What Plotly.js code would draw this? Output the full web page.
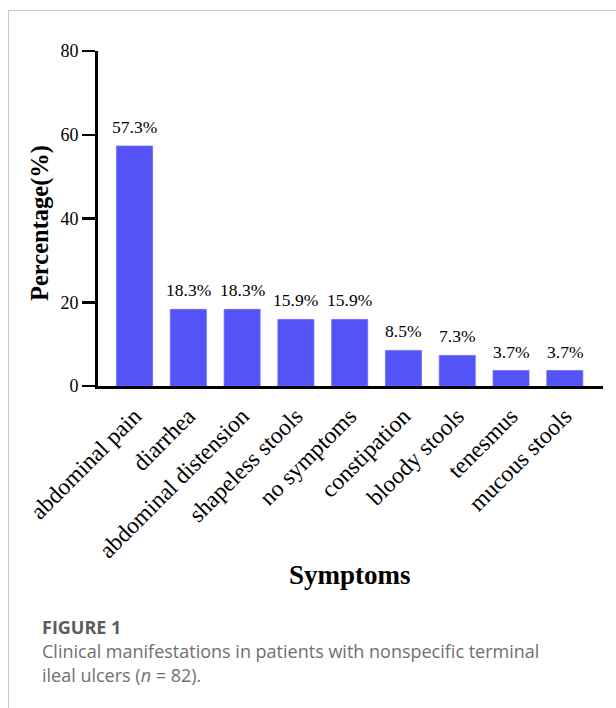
<!DOCTYPE html>
<html>
<head>
<meta charset="utf-8">
<script src="https://cdn.plot.ly/plotly-3.0.1.min.js"></script>
<style>
  html, body { margin: 0; padding: 0; background: #fff; }
  #chart { width: 616px; height: 708px; }
</style>
</head>
<body>
<div id="chart"></div>
<script>
// ---- data ----
const categories = ["abdominal pain", "diarrhea", "abdominal distension", "shapeless stools",
  "no symptoms", "constipation", "bloody stools", "tenesmus", "mucous stools"];
const percentages = [57.3, 18.3, 18.3, 15.9, 15.9, 8.5, 7.3, 3.7, 3.7];
const yTicks = [0, 20, 40, 60, 80];

// ---- geometry helpers (pixel -> paper) ----
const W = 616, H = 708;
const L = 98, R = 13, T = 51, B = 322;
const pw = W - L - R, ph = H - T - B;
const px = x => (x - L) / pw;
const py = y => (H - B - y) / ph;

const serif = "Liberation Serif, Times New Roman, serif";
const sans = "Open Sans, Noto Sans, sans-serif";

const trace = {
  type: "bar",
  x: categories.map((c, i) => i),
  y: percentages,
  width: 0.67,
  marker: { color: "#5353f8", line: { color: "#6a6aff", width: 0.8 } },
  hoverinfo: "skip"
};

// value labels above bars, placed through the data scales
const valueLabels = percentages.map((v, i) => ({
  xref: "x", yref: "y", x: i, y: v, text: v.toFixed(1) + "%",
  showarrow: false, xanchor: "center", yanchor: "middle", yshift: 19,
  font: { family: serif, size: 17.5, color: "#000" }
}));

const layout = {
  width: W, height: H,
  margin: { l: L, r: R, t: T, b: B, pad: 0 },
  paper_bgcolor: "#fff", plot_bgcolor: "#fff",
  showlegend: false,
  xaxis: {
    range: [-0.68, 8.71],
    tickmode: "array",
    tickvals: categories.map((c, i) => i),
    ticktext: categories,
    tickangle: -45,
    tickfont: { family: serif, size: 23.5, color: "#000" },
    ticks: "",
    ticklabelstandoff: 4,
    showline: true, linecolor: "#000", linewidth: 3,
    showgrid: false, zeroline: false,
    fixedrange: true
  },
  yaxis: {
    range: [0, 80],
    tickmode: "array",
    tickvals: yTicks,
    ticktext: yTicks.map(String),
    tickfont: { family: serif, size: 18, color: "#000" },
    ticks: "outside", ticklen: 13, tickwidth: 2.5, tickcolor: "#000",
    showline: true, linecolor: "#000", linewidth: 3,
    showgrid: false, zeroline: false,
    fixedrange: true
  },
  annotations: valueLabels.concat([
    { xref: "paper", yref: "paper", x: px(40), y: py(223), text: "<b>Percentage(%)</b>",
      textangle: -90, showarrow: false, xanchor: "center", yanchor: "middle",
      font: { family: serif, size: 24.5, color: "#000" } },
    { xref: "paper", yref: "paper", x: px(350), y: py(575), text: "<b>Symptoms</b>",
      showarrow: false, xanchor: "center", yanchor: "middle",
      font: { family: serif, size: 27, color: "#000" } },
    { xref: "paper", yref: "paper", x: px(40), y: py(627), text: "<b>FIGURE 1</b>",
      showarrow: false, xanchor: "left", yanchor: "middle",
      font: { family: sans, size: 18, color: "#5c5c5c" } },
    { xref: "paper", yref: "paper", x: px(40), y: py(651),
      text: "Clinical manifestations in patients with nonspecific terminal",
      showarrow: false, xanchor: "left", yanchor: "middle",
      font: { family: sans, size: 18, color: "#707070" } },
    { xref: "paper", yref: "paper", x: px(40), y: py(675),
      text: "ileal ulcers (<i>n</i> = 82).",
      showarrow: false, xanchor: "left", yanchor: "middle",
      font: { family: sans, size: 18, color: "#707070" } }
  ]),
  shapes: [
    { type: "line", xref: "paper", yref: "paper", x0: px(8), x1: px(616), y0: py(10.5), y1: py(10.5),
      line: { color: "#c8c8c8", width: 1 } },
    { type: "line", xref: "paper", yref: "paper", x0: px(8.5), x1: px(8.5), y0: py(10.5), y1: py(708),
      line: { color: "#c8c8c8", width: 1 } }
  ]
};

Plotly.newPlot("chart", [trace], layout, { staticPlot: true, displayModeBar: false });
</script>
</body>
</html>
